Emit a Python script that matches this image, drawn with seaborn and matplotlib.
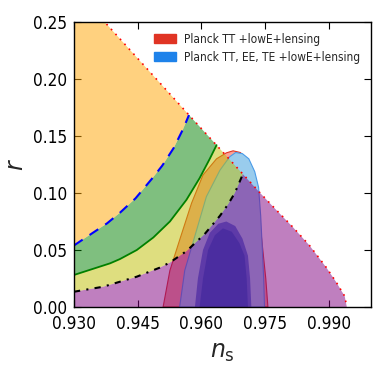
import numpy as np
import matplotlib
matplotlib.use("Agg")
import matplotlib.pyplot as plt
from matplotlib.patches import Patch
from matplotlib import font_manager
from matplotlib.font_manager import FontProperties
import seaborn as sns

# ---------------- data ----------------
# upper boundary (red dotted)
u_ns = [0.9300, 0.9375, 0.9571, 0.9738, 0.9777, 0.9816, 0.9855, 0.9895, 0.9918, 0.9938, 0.9943]
u_r  = [0.2806, 0.2489, 0.1684, 0.1003, 0.0850, 0.0700, 0.0540, 0.0345, 0.0218, 0.0095, 0.0000]
# blue dashed
b_ns = [0.9300, 0.9324, 0.9378, 0.9408, 0.9445, 0.9487, 0.9508, 0.9535, 0.9557, 0.9571]
b_r  = [0.0540, 0.0600, 0.0734, 0.0826, 0.0953, 0.1140, 0.1240, 0.1395, 0.1560, 0.1684]
# green solid
g_ns = [0.9300, 0.9385, 0.9408, 0.9448, 0.9487, 0.9526, 0.9565, 0.9596, 0.9620, 0.9636]
g_r  = [0.0281, 0.0383, 0.0420, 0.0500, 0.0610, 0.0750, 0.0940, 0.1130, 0.1300, 0.1420]
# black dash-dot
k_ns = [0.9300, 0.9369, 0.9448, 0.9502, 0.9526, 0.9565, 0.9608, 0.9644, 0.9663, 0.9679, 0.9698]
k_r  = [0.0134, 0.0178, 0.0266, 0.0345, 0.0390, 0.0490, 0.0640, 0.0800, 0.0900, 0.1000, 0.1165]

# Planck contours
red95_ns = [0.9510, 0.9526, 0.9549, 0.9577, 0.9604, 0.9636, 0.9659, 0.9675, 0.9692, 0.9706,
            0.9716, 0.9724, 0.9730, 0.9738, 0.9745, 0.9752, 0.9757]
red95_r  = [0.0000, 0.0320, 0.0588, 0.0910, 0.1158, 0.1300, 0.1352, 0.1370, 0.1355, 0.1305,
            0.1240, 0.1150, 0.1026, 0.0750, 0.0500, 0.0250, 0.0000]
blue95_ns = [0.9549, 0.9561, 0.9589, 0.9612, 0.9644, 0.9667, 0.9681, 0.9697, 0.9712, 0.9726,
             0.9735, 0.9740, 0.9744, 0.9747, 0.9749]
blue95_r  = [0.0000, 0.0320, 0.0675, 0.0968, 0.1200, 0.1318, 0.1355, 0.1345, 0.1300, 0.1187,
             0.1050, 0.0800, 0.0500, 0.0250, 0.0000]
red68_ns = [0.9585, 0.9592, 0.9604, 0.9620, 0.9640, 0.9659, 0.9680, 0.9697, 0.9710, 0.9715, 0.9718]
red68_r  = [0.0000, 0.0250, 0.0500, 0.0650, 0.0730, 0.0750, 0.0710, 0.0600, 0.0450, 0.0250, 0.0000]
blue68_ns = [0.9596, 0.9604, 0.9616, 0.9632, 0.9651, 0.9672, 0.9690, 0.9702, 0.9707, 0.9710]
blue68_r  = [0.0000, 0.0250, 0.0500, 0.0630, 0.0690, 0.0660, 0.0560, 0.0450, 0.0250, 0.0000]

x_ticks = [0.930, 0.945, 0.960, 0.975, 0.990]
x_tick_labels = ["0.930", "0.945", "0.960", "0.975", "0.990"]
y_ticks = [0.00, 0.05, 0.10, 0.15, 0.20, 0.25]
y_tick_labels = ["0.00", "0.05", "0.10", "0.15", "0.20", "0.25"]
legend_labels = ["Planck TT +lowE+lensing", "Planck TT, EE, TE +lowE+lensing"]

# ---------------- style ----------------
sns.set_style("ticks")
plt.rcParams["font.family"] = ["DejaVu Sans"]
plt.rcParams["mathtext.fontset"] = "dejavusans"

# look for a narrow / condensed regular face
narrow_path = None
prefs = ["LiberationSansNarrow-Regular", "DejaVuSansCondensed.ttf", "RobotoCondensed-Regular",
         "OpenSans_Condensed-Regular", "OpenSansCondensed", "NotoSans-Condensed.ttf",
         "NotoSans_Condensed-Regular", "Roboto_Condensed-Regular"]
files = [f.fname for f in font_manager.fontManager.ttflist]
for p in prefs:
    hits = [f for f in files if p in f.split("/")[-1]]
    if hits:
        narrow_path = hits[0]
        break
if narrow_path is None:
    hits = [f for f in files if ("Narrow" in f or "Condensed" in f)
            and not any(w in f.split("/")[-1] for w in ["Bold", "Oblique", "Italic", "Light", "Thin", "Black", "Medium", "Semi", "Extra"])]
    if hits:
        narrow_path = hits[0]

if narrow_path:
    tick_fp = FontProperties(fname=narrow_path, size=12.3)
    leg_fp = FontProperties(fname=narrow_path, size=8.6)
else:
    tick_fp = FontProperties(family="DejaVu Sans", size=10.5)
    leg_fp = FontProperties(family="DejaVu Sans", size=7.5)

fig = plt.figure(figsize=(3.82, 3.82), dpi=100)
ax = fig.add_axes([74/382, 1-307/382, (371-74)/382, (307-22)/382])

def pts(xs, ys):
    return list(zip(xs, ys))

U = pts(u_ns, u_r)
B = pts(b_ns, b_r)
G = pts(g_ns, g_r)
K = pts(k_ns, k_r)

def u_between(a, b):
    return [p for p in U if a < p[0] < b]

# Planck contours (underneath)
ax.fill(red95_ns, red95_r, facecolor=(0.98, 0.63, 0.59), edgecolor="#E03424", lw=0.8, zorder=1)
ax.fill(blue95_ns, blue95_r, facecolor=(0.60, 0.80, 0.93), edgecolor="#4A9BE8", lw=0.8, zorder=1.1)
ax.fill(red68_ns, red68_r, facecolor=(0.24, 0.46, 0.82), edgecolor="none", zorder=1.2)
ax.fill(blue68_ns, blue68_r, facecolor=(0.09, 0.36, 0.76), edgecolor="none", zorder=1.3)

# model regions
orange_poly = B + u_between(0.9, B[-1][0])[::-1]
green_poly = G + u_between(B[-1][0], G[-1][0])[::-1] + B[::-1]
yellow_poly = K + u_between(G[-1][0], K[-1][0])[::-1] + G[::-1]
magenta_poly = [(0.930, 0.0)] + K + u_between(K[-1][0], 1.0) + [(u_ns[-1], 0.0)]

for poly, col in [(magenta_poly, "purple"), (yellow_poly, "y"),
                  (green_poly, "green"), (orange_poly, "orange")]:
    xs, ys = zip(*poly)
    ax.fill(xs, ys, facecolor=col, alpha=0.5, edgecolor="none", zorder=3)

# lines
sns.lineplot(x=b_ns, y=b_r, ax=ax, color="blue", lw=1.5, linestyle=(0, (5, 4)), zorder=4)
sns.lineplot(x=g_ns, y=g_r, ax=ax, color="green", lw=1.3, zorder=4)
sns.lineplot(x=k_ns, y=k_r, ax=ax, color="black", lw=1.5, linestyle=(0, (3, 3, 1, 3)), zorder=4)
sns.lineplot(x=u_ns, y=u_r, ax=ax, color="red", lw=1.2, linestyle=(0, (1, 3)), zorder=5)

ax.set_xlim(0.930, 1.0)
ax.set_ylim(0.0, 0.25)
ax.set_xticks(x_ticks)
ax.set_xticklabels(x_tick_labels)
ax.set_yticks(y_ticks)
ax.set_yticklabels(y_tick_labels)
ax.tick_params(direction="in", top=True, right=True, length=5, width=0.8,
               pad=5, colors="black")
ax.tick_params(axis="x", pad=6)
for lbl in ax.get_xticklabels() + ax.get_yticklabels():
    lbl.set_fontproperties(tick_fp)
for s in ax.spines.values():
    s.set_linewidth(1.0)
    s.set_color("black")
    s.set_zorder(6)

ax.set_xlabel(r"$n_{\rm s}$", fontsize=17, family="DejaVu Sans")
ax.set_ylabel(r"$r$", fontsize=17, family="DejaVu Sans")
ax.xaxis.set_label_coords(0.5, -0.115)
ax.yaxis.set_label_coords(-0.155, 0.5)

handles = [Patch(facecolor="#E03424", edgecolor="#E03424"),
           Patch(facecolor="#1E82EA", edgecolor="#1E82EA")]
leg = ax.legend(handles, legend_labels, loc="upper right", frameon=False,
                prop=leg_fp, handlelength=1.8, handleheight=0.85,
                handletextpad=0.7, borderaxespad=0.5, labelspacing=0.4)
leg.set_zorder(7)

fig.savefig("out.png", dpi=100)
